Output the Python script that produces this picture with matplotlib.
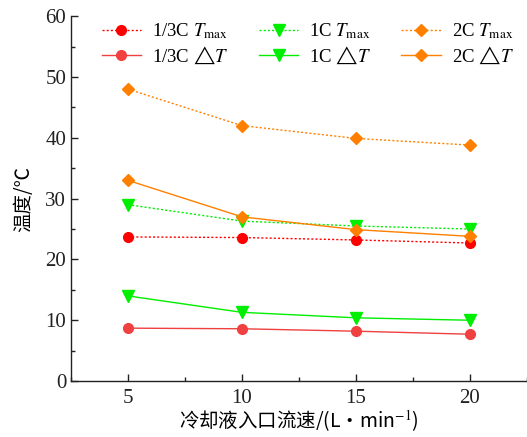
import matplotlib
matplotlib.use("Agg")
import matplotlib.pyplot as plt
from matplotlib.ticker import MultipleLocator

plt.rcParams['font.family'] = ['Liberation Serif', 'Noto Sans CJK SC', 'DejaVu Sans']
plt.rcParams['mathtext.fontset'] = 'stix'

# Coolant inlet flow rate (L/min)
flow = [5, 10, 15, 20]

# Maximum temperature and temperature difference for each discharge rate
tmax_13c = [23.7, 23.6, 23.2, 22.7]
dt_13c = [8.7, 8.6, 8.2, 7.7]
tmax_1c = [29.0, 26.3, 25.5, 25.0]
dt_1c = [14.0, 11.3, 10.4, 10.0]
tmax_2c = [48.0, 42.0, 39.9, 38.8]
dt_2c = [33.0, 27.0, 24.9, 23.8]

labels = [
    r"1/3C $T_{\rm max}$", r"1/3C $\bigtriangleup T$",
    r"1C $T_{\rm max}$", r"1C $\bigtriangleup T$",
    r"2C $T_{\rm max}$", r"2C $\bigtriangleup T$",
]

fig = plt.figure(figsize=(5.27, 4.37), dpi=100)
ax = fig.add_axes([0.1347, 0.128, 0.8653, 0.835])

dot = (0, (1.5, 1.5))
ms = 7
ax.plot(flow, tmax_13c, linestyle=dot, color='#ff0000', marker='o', ms=ms, lw=1.0, label=labels[0])
ax.plot(flow, dt_13c, linestyle='-', color='#f04040', marker='o', ms=ms, lw=1.0, label=labels[1])
ax.plot(flow, tmax_1c, linestyle=dot, color='#00ee00', marker='v', ms=ms + 1, lw=1.0, label=labels[2])
ax.plot(flow, dt_1c, linestyle='-', color='#00ee00', marker='v', ms=ms + 1, lw=1.0, label=labels[3])
ax.plot(flow, tmax_2c, linestyle=dot, color='#ff8000', marker='D', ms=ms - 0.5, lw=1.0, label=labels[4])
ax.plot(flow, dt_2c, linestyle='-', color='#ff8000', marker='D', ms=ms - 0.5, lw=1.0, label=labels[5])

ax.set_xlim(2.5, 22.5)
ax.set_ylim(0, 60)
ax.xaxis.set_major_locator(MultipleLocator(5))
ax.xaxis.set_minor_locator(MultipleLocator(2.5))
ax.yaxis.set_major_locator(MultipleLocator(10))
ax.yaxis.set_minor_locator(MultipleLocator(5))

for s in ('top', 'right'):
    ax.spines[s].set_visible(False)
for s in ('left', 'bottom'):
    ax.spines[s].set_linewidth(1.0)
    ax.spines[s].set_color('#222222')

ax.tick_params(axis='both', which='major', direction='in', length=5, width=1.0,
               labelsize=15, colors='#222222')
ax.tick_params(axis='both', which='minor', direction='in', length=3, width=1.0, colors='#222222')
ax.tick_params(axis='x', pad=6)

ax.set_ylabel("温度/℃", fontsize=14, family=['Noto Sans CJK SC', 'DejaVu Sans'], labelpad=8)
ax.set_xlabel("冷却液入口流速/(L\u30fbmin$^{-1}$)", fontsize=14,
              family=['Noto Sans CJK SC', 'DejaVu Sans'], labelpad=0)

ax.legend(ncol=3, loc='upper left', bbox_to_anchor=(0.055, 1.0), frameon=False,
          fontsize=13.5, handlelength=2.1, handletextpad=0.6, columnspacing=1.6,
          labelspacing=0.15, borderaxespad=0.0, borderpad=0.3)

fig.savefig("out.png", dpi=100)
